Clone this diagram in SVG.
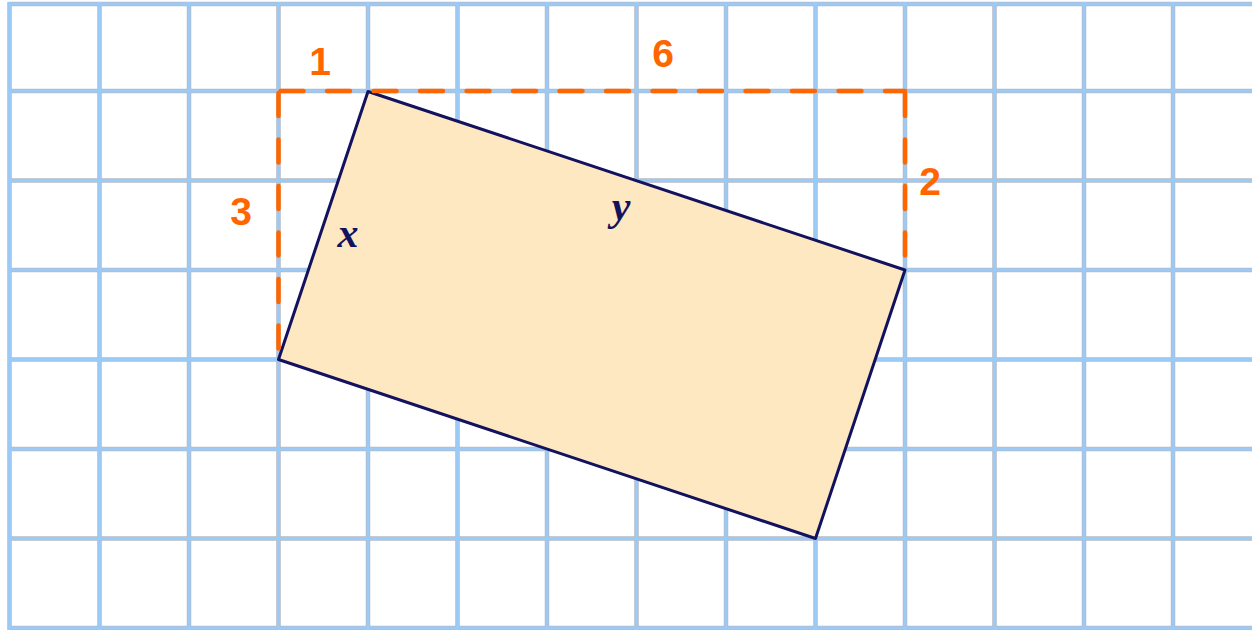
<svg xmlns="http://www.w3.org/2000/svg" width="1252" height="630" viewBox="0 0 1252 630">
  <style>
    .gridOuter { stroke: #b2bac6; stroke-width: 4.5; fill: none; }
    .gridInner { stroke: #9ccaf6; stroke-width: 3; fill: none; }
    .dash { stroke: #ff6600; stroke-width: 4.5; fill: none; stroke-dasharray: 23 23.5; stroke-linecap: round; stroke-linejoin: round; }
    .num { font-family: "Liberation Sans", Arial, sans-serif; font-weight: bold; font-size: 39px; fill: #ff6600; text-anchor: middle; }
    .var { font-family: "Liberation Serif", "Times New Roman", serif; font-weight: bold; font-style: italic; font-size: 42px; fill: #12125e; text-anchor: middle; }
  </style>
  <rect x="0" y="0" width="1252" height="630" fill="#ffffff"/>
  <g id="grid">
    <path class="gridOuter" d="M8 4H1252M8 91H1252M8 180.5H1252M8 270H1252M8 359.5H1252M8 449H1252M8 538.5H1252M8 628H1252 M9.5 2V630M99.5 2V630M189 2V630M278.5 2V630M368 2V630M457.5 2V630M547 2V630M636.5 2V630M726 2V630M815.5 2V630M905 2V630M994.5 2V630M1084 2V630M1173 2V630"/>
    <path class="gridInner" d="M8 4H1252M8 91H1252M8 180.5H1252M8 270H1252M8 359.5H1252M8 449H1252M8 538.5H1252M8 628H1252 M9.5 2V630M99.5 2V630M189 2V630M278.5 2V630M368 2V630M457.5 2V630M547 2V630M636.5 2V630M726 2V630M815.5 2V630M905 2V630M994.5 2V630M1084 2V630M1173 2V630"/>
  </g>
  <g id="rectangle">
    <polygon points="368,91.5 905,270 815.5,538.5 278.5,359.5" fill="#fde8c2" stroke="#12125e" stroke-width="3" stroke-linejoin="round"/>
  </g>
  <g id="bounding-box">
    <path class="dash" d="M278.5 93V359.5"/>
    <path class="dash" d="M280.5 91H905"/>
    <path class="dash" d="M905 93V270"/>
  </g>
  <g id="labels">
    <text class="num" x="320" y="75">1</text>
    <text class="num" x="663" y="67">6</text>
    <text class="num" x="241" y="225">3</text>
    <text class="num" x="930" y="195">2</text>
    <text class="var" x="348" y="247">x</text>
    <text class="var" x="621" y="220">y</text>
  </g>
</svg>
